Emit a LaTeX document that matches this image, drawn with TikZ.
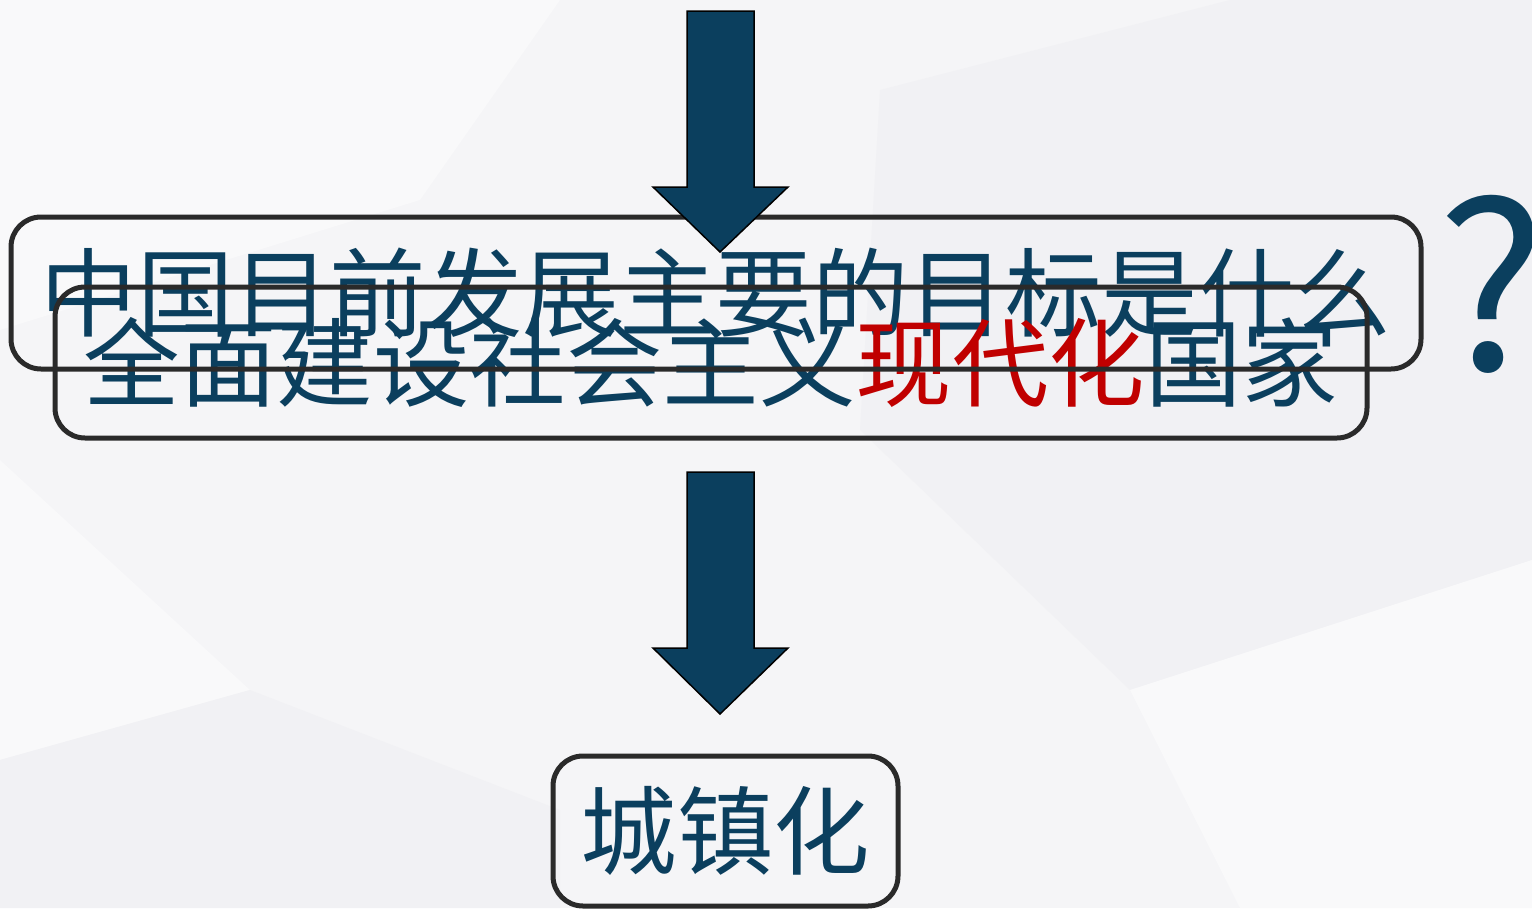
\documentclass[tikz,border=0pt]{standalone}
\usepackage{fontspec}
\newfontfamily\cjk{Noto Sans CJK SC}
\definecolor{txtblue}{RGB}{11,63,94}
\definecolor{myred}{RGB}{192,0,0}
\definecolor{framegray}{RGB}{42,42,42}
\definecolor{bgbase}{RGB}{245,245,247}
\definecolor{bgshade}{RGB}{241,241,244}
\definecolor{bglight}{RGB}{249,249,250}
\tikzset{
  boxtext/.style={inner sep=0pt, outer sep=0pt, text=txtblue, font=\cjk\fontsize{96.5}{100}\selectfont},
  frame/.style={draw=framegray, line width=5pt, rounded corners=30pt},
  blockarrow/.style={fill=txtblue, draw=black, line width=1.5pt, line join=miter},
}
\begin{document}
\begin{tikzpicture}[x=1pt,y=-1pt]
\useasboundingbox (0,0) rectangle (1532,908);
\fill[bgbase] (0,0) rectangle (1532,908);
% faint background facets
\fill[bglight] (0,0) -- (560,0) -- (420,200) -- (0,330) -- cycle;
\fill[bgshade] (880,90) -- (1230,0) -- (1532,0) -- (1532,560) -- (1130,690) -- (860,430) -- cycle;
\fill[bglight] (0,460) -- (250,690) -- (0,760) -- cycle;
\fill[bgshade] (0,760) -- (250,690) -- (560,810) -- (560,908) -- (0,908) -- cycle;
\fill[bglight] (1130,690) -- (1532,560) -- (1532,908) -- (1240,908) -- cycle;
% texts
\node[boxtext, minimum width=1410pt, minimum height=152pt] (q) at (716,293) {中国目前发展主要的目标是什么};
\node[boxtext, minimum width=1312pt, minimum height=151pt] (g) at (711,362.5) {全面建设社会主义\textcolor{myred}{现代化}国家};
\node[boxtext, minimum width=345pt, minimum height=150pt] (u) at (725.5,831) {城镇化};
\node[text=txtblue, font=\cjk\fontsize{230}{240}\selectfont, inner sep=0pt] (qm) at (1492,284) {?};
% frames
\draw[frame] (q.north west) rectangle (q.south east);
\draw[frame] (g.north west) rectangle (g.south east);
\draw[frame] (u.north west) rectangle (u.south east);
% block arrows
\draw[blockarrow] (687,11) -- (754,11) -- (754,187) -- (788,187) -- (720,252) -- (653,187) -- (687,187) -- cycle;
\draw[blockarrow] (687,472) -- (754,472) -- (754,648) -- (788,648) -- (720,714) -- (653,648) -- (687,648) -- cycle;
\end{tikzpicture}
\end{document}
